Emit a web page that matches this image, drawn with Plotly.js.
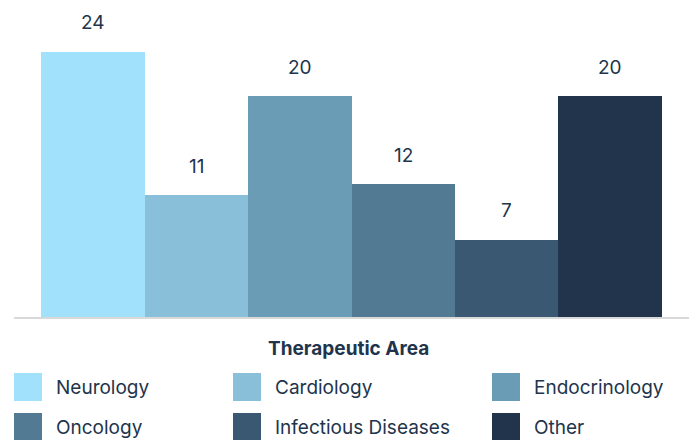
<!DOCTYPE html>
<html>
<head>
<meta charset="utf-8">
<script src="https://cdn.plot.ly/plotly-3.0.1.min.js"></script>
<style>html,body{margin:0;padding:0;background:#fff}#chart{width:689px;height:440px}</style>
</head>
<body>
<div id="chart"></div>
<script>
var categories = ["Neurology", "Cardiology", "Endocrinology", "Oncology", "Infectious Diseases", "Other"];
var values = [24, 11, 20, 12, 7, 20];
var colors = ["#a2e1fc", "#89bfd9", "#6a9db5", "#527a93", "#3a5871", "#21344c"];
var legendTitle = "Therapeutic Area";

var W = 689, H = 440;
var L = 14, R = 0, T = 0, B = 123;
var pw = W - L - R, ph = H - T - B;
function px(x) { return (x - L) / pw; }
function py(y) { return (H - B - y) / ph; }

var textColor = "#21344c";
var fontFam = "Inter, Roboto, sans-serif";

var trace = {
  type: "bar",
  x: categories,
  y: values,
  marker: { color: colors, line: { width: 0 } },
  hoverinfo: "x+y",
  showlegend: false
};

var annotations = [];
for (var i = 0; i < categories.length; i++) {
  annotations.push({
    x: categories[i], y: values[i], xref: "x", yref: "y",
    text: String(values[i]), showarrow: false,
    yanchor: "middle", yshift: 29,
    font: { family: fontFam, size: 19, color: textColor }
  });
}
annotations.push({
  x: px(348), y: py(348), xref: "paper", yref: "paper",
  text: "<b>" + legendTitle + "</b>", showarrow: false,
  xanchor: "center", yanchor: "middle",
  font: { family: fontFam, size: 19, color: textColor }
});

var colX = [14, 233, 492];
var rowY = [373, 413];
var sw = 28;
var shapes = [];
for (var k = 0; k < categories.length; k++) {
  var c = k % 3, r = Math.floor(k / 3);
  var x0 = colX[c], y0 = rowY[r];
  shapes.push({
    type: "rect", xref: "paper", yref: "paper",
    x0: px(x0), x1: px(x0 + sw), y0: py(y0), y1: py(y0 + sw),
    fillcolor: colors[k], line: { width: 0 }
  });
  annotations.push({
    x: px(x0 + 40), y: py(y0 + sw / 2), xref: "paper", yref: "paper",
    text: categories[k], showarrow: false,
    xanchor: "left", yanchor: "middle",
    font: { family: fontFam, size: 19, color: textColor }
  });
}

var layout = {
  width: W, height: H,
  margin: { l: L, r: R, t: T, b: B, pad: 0 },
  paper_bgcolor: "#ffffff",
  plot_bgcolor: "#ffffff",
  bargap: 0,
  xaxis: {
    type: "category",
    range: [-0.766, 5.766],
    showticklabels: false, ticks: "",
    showgrid: false, zeroline: false,
    showline: true, linecolor: "#d9d9d9", linewidth: 2,
    fixedrange: true
  },
  yaxis: {
    range: [0, 28.69],
    showticklabels: false, ticks: "",
    showgrid: false, zeroline: false, showline: false,
    fixedrange: true
  },
  annotations: annotations,
  shapes: shapes,
  showlegend: false
};

Plotly.newPlot("chart", [trace], layout, { displayModeBar: false, staticPlot: true });
</script>
</body>
</html>
